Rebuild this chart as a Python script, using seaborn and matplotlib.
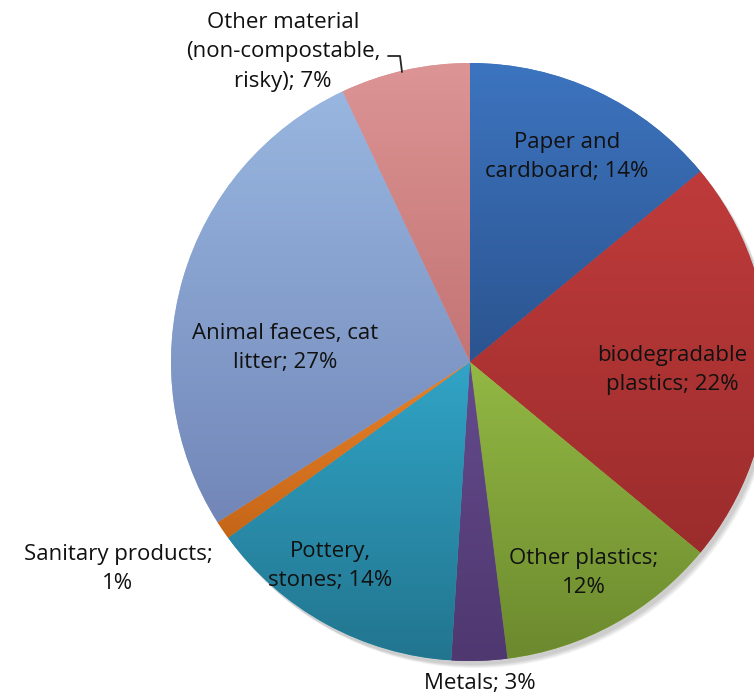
import matplotlib
matplotlib.use("Agg")
import matplotlib.pyplot as plt
import matplotlib.colors as mcolors
import numpy as np
import seaborn as sns

# data
categories = ["Paper and cardboard", "biodegradable plastics", "Other plastics",
              "Metals", "Pottery, stones", "Sanitary products",
              "Animal faeces, cat litter", "Other material (non-compostable, risky)"]
shares = [14, 22, 12, 3, 14, 1, 27, 7]
label_texts = ["Paper and\ncardboard; 14%", "biodegradable\nplastics; 22%",
               "Other plastics;\n12%", "Metals; 3%", "Pottery,\nstones; 14%",
               "Sanitary products;\n1%", "Animal faeces, cat\nlitter; 27%",
               "Other material\n(non-compostable,\nrisky); 7%"]
top_colors = ["#3d74bf", "#bf3b3b", "#93b844", "#644a8c", "#31a4c6", "#e8822a", "#98b6e0", "#dc9494"]
bottom_colors = ["#2b5490", "#9c2c2c", "#6c8a2e", "#4f3870", "#22758f", "#c56618", "#7287b8", "#c47474"]

# label positions in pixel coords (x, y from top)
label_pos = [(567, 157), (672, 370), (584, 573), (480, 683), (330, 566),
             (118, 569), (285, 348), (283, 52)]

sns.set_theme(style="white")
plt.rcParams['font.family'] = ['Open Sans', 'DejaVu Sans']

W, H = 754, 695
fig = plt.figure(figsize=(W / 100, H / 100), dpi=100)
ax = fig.add_axes([0, 0, 1, 1])

cx, cy, r = 470, H - 362, 299

# soft shadow
for k in range(4):
    circ = plt.Circle((cx + 3 + k, cy - 4 - k), r, color="black", alpha=0.05, lw=0, zorder=0)
    ax.add_patch(circ)

wedges, _ = ax.pie(shares, startangle=90, counterclock=False, center=(cx, cy), radius=r,
                   colors=top_colors, wedgeprops=dict(linewidth=0))

# vertical gradient in each wedge (light at top, dark at bottom)
for w, c1, c2 in zip(wedges, top_colors, bottom_colors):
    th1, th2 = np.radians(w.theta1), np.radians(w.theta2)
    angs = np.linspace(th1, th2, 50)
    ys = np.concatenate([[cy], cy + r * np.sin(angs)])
    y0, y1 = ys.min(), ys.max()
    grad = np.linspace(0, 1, 100).reshape(-1, 1)
    cmap = mcolors.LinearSegmentedColormap.from_list("g", [c2, c1])
    im = ax.imshow(grad, cmap=cmap, extent=(cx - r, cx + r, y0, y1), origin="lower",
                   aspect="auto", zorder=2)
    im.set_clip_path(w)
    w.set_zorder(1)

for txt, (x, y) in zip(label_texts, label_pos):
    ax.text(x, H - y, txt, ha="center", va="center", fontsize=16, color="#111111",
            linespacing=1.5, zorder=5)

# leader line for the small slice at the top
ax.plot([388, 400, 402], [H - 56, H - 56, H - 72], color="#262626", lw=1.3, zorder=5)

ax.set_xlim(0, W)
ax.set_ylim(0, H)
ax.set_aspect("equal")
ax.axis("off")

fig.savefig("out.png", dpi=100)
